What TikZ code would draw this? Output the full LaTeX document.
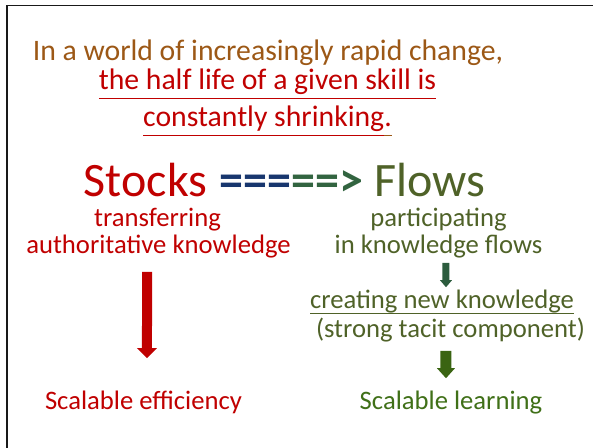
\documentclass[tikz,border=0pt]{standalone}
\usepackage{amsmath}
\usepackage{fontspec}
\setmainfont{Carlito}
\usetikzlibrary{arrows.meta}
\definecolor{titlebrown}{RGB}{156,88,22}
\definecolor{stockred}{RGB}{192,0,0}
\definecolor{flowolive}{RGB}{79,98,40}
\definecolor{learngreen}{RGB}{64,112,24}
\definecolor{eqblue}{RGB}{24,54,110}
\definecolor{eqgreen}{RGB}{50,100,64}
\definecolor{smallgreen}{RGB}{44,92,62}
\definecolor{biggreen}{RGB}{58,100,18}
\newcommand{\ulat}[2]{\underline{\smash[b]{#2}\rule[-#1]{0pt}{#1}}}
\tikzset{slide/.style={x=0.75pt, y=-0.75pt},
         txt/.style={anchor=base, inner sep=0pt},
         title/.style={txt, font=\fontsize{22.3}{26}\selectfont},
         big/.style={txt, font=\fontsize{36}{40}\selectfont},
         body/.style={txt, font=\fontsize{20}{24}\selectfont},
         blockarrow/.style n args={3}{line width=#1,
                           -{Triangle[width=#2, length=#3, line width=0pt]}}}

\begin{document}
\begin{tikzpicture}[slide]
  \clip (0,0) rectangle (593,447);
  \draw[line width=1.1pt, black!90] (7,460) -- (7,5.5) -- (600,5.5);

  \node[title, text=titlebrown] (line1) at (268,60) {In a world of increasingly rapid change,};
  \node[title, text=stockred] (line2) at (267.5,89) {\ulat{4.5pt}{the half life of a given skill is}};
  \node[title, text=stockred] (line3) at (267.5,126)
    {\ulat{4pt}{constantly shrinking}{\color{titlebrown}\ulat{4pt}{\textcolor{stockred}{.}}}};

  \node[big, text=stockred] (stocks) at (145.5,196) {Stocks};
  \node[big, font=\fontsize{36}{40}\selectfont\bfseries] (shift) at (291.5,196)
    {\textcolor{eqblue}{===}\textcolor{eqgreen}{==>}};
  \node[big, text=flowolive] (flows) at (430,196) {Flows};

  \node[body, text=stockred, text depth=0pt] (transfer) at (157.5,226) {transferring};
  \node[body, text=stockred] (auth) at (158.5,253) {authoritative knowledge};
  \node[body, text=flowolive, text depth=0pt] (particip) at (438.5,226) {participating};
  \node[body, text=flowolive] (inflows) at (438.5,253) {in knowledge flows};
  \node[body, text=flowolive] (creating) at (442,308) {\ulat{1.5pt}{creating new knowledge}};
  \node[body, text=flowolive] (tacit) at (450.5,337) {(strong tacit component)};
  \node[body, text=stockred] (efficiency) at (143.5,409) {Scalable efficiency};
  \node[body, text=learngreen] (learning) at (451,409) {Scalable learning};

  % block arrows
  \draw[blockarrow={7.5pt}{15pt}{7.5pt}, stockred, shorten <=10.5pt, shorten >=24pt]
    ([xshift=-8.6pt]auth.south) -- ([xshift=2.6pt]efficiency.north);
  \draw[blockarrow={5.25pt}{9pt}{5.25pt}, smallgreen, shorten <=3.75pt, shorten >=1.5pt]
    ([xshift=5.6pt]inflows.south) -- ([xshift=3pt]creating.north);
  \draw[blockarrow={8.25pt}{13.5pt}{7.5pt}, biggreen, shorten <=6.75pt, shorten >=9pt]
    ([xshift=-3.4pt]tacit.south) -- ([xshift=-3.75pt]learning.north);
\end{tikzpicture}
\end{document}
